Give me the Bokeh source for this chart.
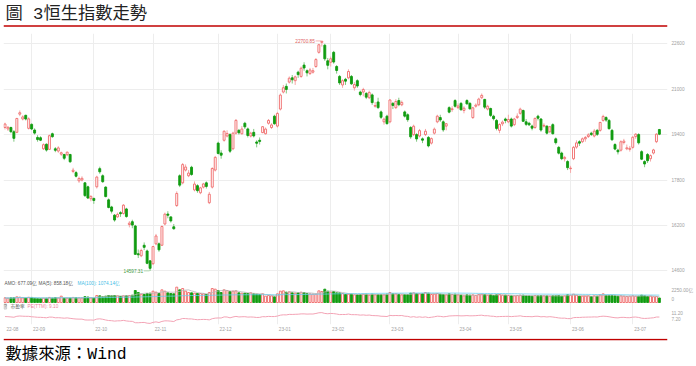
import numpy as np
import pandas as pd
from bokeh.plotting import figure
from bokeh.layouts import column
from bokeh.models import ColumnDataSource, Range1d, FixedTicker, Label
from bokeh.core.properties import value
from bokeh.embed import file_html
from bokeh.resources import INLINE

# ---------------- data ----------------
holidays = ["2022-09-12", "2022-10-04", "2022-12-26", "2022-12-27", "2023-01-02",
            "2023-01-23", "2023-01-24", "2023-01-25", "2023-04-05", "2023-04-07",
            "2023-04-10", "2023-05-01", "2023-05-26", "2023-06-22"]
days = pd.bdate_range("2022-08-19", "2023-07-14")
days = days[~days.isin(pd.to_datetime(holidays))]

opens = [19650, 19600, 19650, 19500, 19480, 20120, 19950, 20080, 19620,
         19760, 19560, 19300, 19290, 18900, 19060, 18880, 19430, 18900, 18820, 18710, 18700, 18690, 18700, 18100, 18060, 17770, 17800, 17700, 17560, 17140,
         17150, 17560, 18200, 17950, 17550, 17100, 16850, 16560, 16500, 16650, 16620, 16780, 16230, 16330, 16180, 15200, 15130, 15500, 15300, 14950,
         14850, 15550, 15550, 15500, 16250, 16600, 16500, 16150, 16900, 17950, 17700, 18150, 17950, 18250, 17450, 17600, 17350, 17550, 17700, 17000, 17550, 18150,
         19100, 18750, 19200, 19350, 19400, 18900, 19450, 19550, 19430, 19800, 19600, 19350, 19480, 19140, 19200, 19470, 19430, 19800, 19650, 20050,
         19700, 20300, 20900, 21100, 21250, 21400, 21300, 21600, 21450, 21850, 21650, 21550, 21600, 21800, 22300, 22650, 22550, 22000,
         21950, 22300, 21800, 21450, 21150, 21350, 21400, 21450, 21050, 21300, 20900, 20900, 20850, 20700, 20800, 20400, 20550, 20200, 19850, 20050,
         19850, 20500, 20350, 20600, 20450, 20200, 20100, 19650, 19400, 19400, 19350, 19250, 19400, 19300, 19100, 19450, 19850, 20000, 19850, 19700, 20350, 20280, 20600,
         20350, 20500, 20250, 20600, 20500, 20000, 20400, 20450, 20700, 20640, 20300, 20320, 20050, 19900, 19550, 19780, 19950,
         19850, 19950, 19750, 20000, 20150, 20250, 19850, 19800, 19700, 19650, 20050, 19950, 19700, 19700, 19500, 19750, 19250, 18950, 18750, 18550, 18450,
         18200, 18550, 18960, 19150, 19150, 19250, 19330, 19450, 19350, 19550, 19550, 19900, 20000, 19900, 19550, 19050, 18850, 18850, 19120, 18900, 18880,
         18950, 19330, 19400, 18800, 18450, 18700, 18550, 18750, 19150, 19580]
highs = [19820, 19700, 19680, 19560, 19990, 20250, 20080, 20100, 20010,
         19800, 19620, 19380, 19340, 19090, 19090, 19400, 19470, 18960, 18990, 18800, 18720, 18800, 18720, 18230, 18120, 17920, 17930, 17720, 17600, 17260,
         17180, 17950, 18270, 18000, 17580, 17150, 16890, 16600, 16650, 16700, 16950, 16820, 16350, 16400, 16220, 15350, 15380, 15600, 15350, 14980,
         15480, 15900, 15600, 16200, 16650, 16700, 16520, 16250, 17400, 18000, 18400, 18350, 18150, 18300, 17750, 17650, 17560, 17700, 17750, 17380, 18250, 18650,
         19150, 18850, 19550, 19550, 19450, 19500, 19950, 19600, 19700, 19850, 19650, 19500, 19600, 19200, 19300, 19700, 19650, 19950, 19800, 20100,
         20200, 20850, 21150, 21200, 21450, 21500, 21480, 21650, 21800, 21950, 21700, 21750, 21750, 22100, 22600, 22700.85, 22600, 22100,
         22150, 22350, 21850, 21500, 21350, 21400, 21700, 21500, 21250, 21350, 20950, 21050, 20900, 20950, 20850, 20550, 20700, 20250, 20000, 20100,
         20650, 20550, 20650, 20700, 20600, 20250, 20150, 19700, 19750, 19450, 19600, 19300, 19600, 19350, 19300, 19650, 20100, 20100, 19900, 19800, 20400, 20400, 20650,
         20500, 20550, 20400, 20650, 20550, 20380, 20500, 20700, 20850, 20660, 20450, 20350, 20100, 19950, 19800, 19900, 20000,
         20100, 20000, 19990, 20150, 20350, 20280, 19950, 19850, 19750, 20000, 20100, 19980, 19800, 19720, 19700, 19800, 19300, 19000, 18800, 18650, 18500,
         18300, 19000, 19200, 19200, 19300, 19350, 19450, 19500, 19600, 19600, 19850, 20100, 20050, 19950, 19600, 19100, 18900, 19200, 19250, 19050, 19000,
         19350, 19450, 19450, 18850, 18500, 18750, 18700, 18900, 19450, 19600]
lows = [19580, 19530, 19450, 19150, 19450, 20050, 19900, 19900, 19580,
        19560, 19400, 19150, 19170, 18860, 18800, 18870, 19290, 18780, 18760, 18650, 18500, 18640, 18400, 18040, 17890, 17700, 17750, 17200, 17130, 17050,
        16960, 17500, 18020, 17700, 17190, 16800, 16620, 16330, 16470, 16500, 16580, 16470, 16130, 16100, 15160, 15050, 15080, 15330, 14830, 14597.31,
        14800, 15500, 15270, 15480, 16200, 16450, 16300, 16050, 16850, 17550, 17650, 18100, 17900, 17950, 17400, 17350, 17300, 17500, 17500, 16950, 17500, 18100,
        18700, 18550, 19150, 19300, 18750, 18850, 19400, 19400, 19400, 19600, 19300, 19300, 19300, 18950, 19050, 19450, 19400, 19750, 19600, 19750,
        19650, 20250, 20850, 20850, 21200, 21200, 21150, 21400, 21400, 21650, 21450, 21500, 21550, 21750, 22250, 22500, 22000, 21700,
        21800, 21900, 21550, 21150, 21050, 21150, 21350, 21150, 20950, 21050, 20750, 20750, 20650, 20650, 20450, 20350, 20300, 19950, 19750, 19750,
        19800, 20300, 20300, 20400, 20400, 20000, 19850, 19250, 19350, 19150, 19300, 19100, 19350, 18950, 19050, 19400, 19800, 19850, 19500, 19550, 20150, 20200, 20350,
        20300, 20250, 20150, 20450, 20280, 19950, 20350, 20400, 20650, 20300, 20250, 20020, 19900, 19550, 19450, 19700, 19800,
        19800, 19650, 19700, 19950, 20100, 19850, 19700, 19700, 19550, 19600, 19900, 19500, 19650, 19400, 19450, 19400, 19050, 18700, 18500, 18450, 18150,
        18050, 18500, 18900, 19000, 19100, 19150, 19280, 19350, 19300, 19350, 19500, 19850, 19850, 19580, 19180, 18850, 18700, 18800, 19050, 18850, 18800,
        18900, 19250, 19050, 18500, 18250, 18400, 18450, 18700, 19100, 19380]
closes = [19773, 19657, 19503, 19268, 19968, 20170, 20023, 19949, 19954,
          19597, 19452, 19225, 19202, 19044, 18854, 19362, 19326, 18847, 18930, 18761, 18566, 18781, 18444, 18147, 17933, 17855, 17860, 17250, 17165, 17223,
          17079, 17903, 18088, 17740, 17216, 16832, 16702, 16389, 16588, 16612, 16914, 16512, 16280, 16211, 15180, 15165, 15317, 15427, 14863, 14687,
          15455, 15827, 15339, 16161, 16595, 16557, 16358, 16081, 17326, 17619, 18343, 18256, 18045, 17993, 17656, 17424, 17524, 17661, 17574, 17298, 18205, 18597,
          18736, 18675, 19518, 19441, 18815, 19451, 19901, 19464, 19596, 19673, 19369, 19450, 19353, 19095, 19160, 19679, 19593, 19899, 19741, 19781,
          20145, 20793, 21052, 20992, 21388, 21331, 21436, 21514, 21739, 21747, 21578, 21678, 21651, 22045, 22567, 22689, 22070, 21842,
          22072, 21958, 21660, 21222, 21299, 21284, 21624, 21190, 21164, 21114, 20812, 20988, 20720, 20887, 20529, 20424, 20351, 20010, 19944, 19786,
          20620, 20429, 20568, 20453, 20534, 20051, 19926, 19320, 19696, 19248, 19540, 19204, 19519, 19001, 19259, 19591, 20050, 19916, 19568, 19785, 20192, 20309, 20400,
          20409, 20274, 20332, 20485, 20309, 20344, 20439, 20651, 20782, 20368, 20397, 20076, 19960, 19618, 19757, 19840, 19895,
          19934, 19699, 19949, 20049, 20297, 19868, 19762, 19744, 19627, 19971, 19978, 19561, 19727, 19451, 19678, 19431, 19116, 18747, 18551, 18596, 18234,
          18217, 18950, 19108, 19099, 19252, 19299, 19390, 19404, 19521, 19408, 19829, 20040, 19913, 19607, 19218, 18890, 18794, 19148, 19172, 18934, 18916,
          19306, 19415, 19110, 18533, 18365, 18479, 18659, 18860, 19414, 19413]
amount = [700, 640, 700, 720, 850, 800, 700, 650, 780,
          760, 620, 600, 580, 650, 640, 760, 660, 740, 680, 950, 620, 640, 660, 760, 720, 700, 680, 880, 820, 680,
          650, 1050, 1000, 850, 950, 1050, 1000, 1050, 1000, 900, 1000, 1000, 1050, 1100, 1800, 1500, 1250, 1200, 1350, 1400,
          1700, 1550, 1350, 1900, 1700, 1450, 1350, 1300, 2300, 1900, 2100, 1700, 1500, 1450, 1400, 1350, 1350, 1300, 1200, 1500, 2100, 2000,
          1800, 1500, 1900, 1800, 1650, 1700, 1750, 1450, 1400, 1400, 1350, 1450, 1300, 1250, 1200, 1300, 950, 1050, 1000, 850,
          1300, 1700, 1750, 1550, 1600, 1450, 1400, 1450, 1550, 1500, 1350, 1300, 1250, 1250, 1750, 1650, 2000, 1700,
          1550, 1650, 1450, 1450, 1350, 1200, 1250, 1250, 1150, 1150, 1200, 1250, 1250, 1100, 1250, 1150, 1200, 1200, 1150, 1250,
          1500, 1300, 1300, 1200, 1150, 1200, 1200, 1400, 1450, 1350, 1300, 1350, 1500, 1400, 1200, 1250, 1350, 1250, 1200, 1150, 1300, 1200, 1250,
          1150, 1100, 1000, 1150, 1100, 1150, 1050, 1200, 1250, 1200, 1100, 1150, 1050, 1150, 1200, 1100, 1100,
          1050, 1000, 1000, 1050, 1100, 1100, 1000, 1000, 950, 1050, 1000, 1050, 1000, 1000, 950, 1000, 1000, 1050, 950, 1000, 1150,
          1100, 1250, 1100, 950, 950, 950, 1000, 900, 1000, 950, 1150, 1300, 1050, 1050, 1050, 1000, 950, 1000, 950, 900, 950,
          1000, 950, 950, 1100, 1000, 905.3, 952.6, 861.0, 894.9, 677.09]
pe_ttm = [9.27, 9.22, 9.14, 9.03, 9.36, 9.46, 9.39, 9.35, 9.35,
          9.19, 9.12, 9.01, 9.00, 8.93, 8.84, 9.08, 9.06, 8.84, 8.87, 8.80, 8.70, 8.80, 8.65, 8.51, 8.41, 8.37, 8.37, 8.09, 8.05, 8.07,
          8.01, 8.39, 8.48, 8.32, 8.07, 7.89, 7.83, 7.68, 7.78, 7.79, 7.93, 7.74, 7.63, 7.60, 7.12, 7.11, 7.18, 7.23, 6.97, 6.89,
          7.25, 7.42, 7.19, 7.58, 7.78, 7.76, 7.67, 7.54, 8.12, 8.26, 8.60, 8.56, 8.46, 8.44, 8.28, 8.17, 8.22, 8.28, 8.24, 8.11, 8.53, 8.72,
          8.78, 8.76, 9.15, 9.11, 8.82, 9.12, 9.33, 9.13, 9.19, 9.22, 9.08, 9.12, 9.07, 8.95, 8.98, 9.23, 9.19, 9.33, 9.26, 9.27,
          9.44, 9.75, 9.87, 9.84, 10.03, 10.00, 10.05, 10.09, 10.19, 10.20, 10.12, 10.16, 10.15, 10.34, 10.58, 10.64, 10.35, 10.24,
          10.35, 10.29, 10.15, 9.95, 9.99, 9.98, 10.14, 9.93, 9.92, 9.90, 9.76, 9.84, 9.71, 9.79, 9.62, 9.58, 9.54, 9.38, 9.35, 9.28,
          9.67, 9.58, 9.64, 9.59, 9.63, 9.40, 9.34, 9.06, 9.23, 9.02, 9.16, 9.00, 9.15, 8.91, 9.03, 9.18, 9.40, 9.34, 9.17, 9.28, 9.47, 9.52, 9.56,
          9.57, 9.50, 9.53, 9.60, 9.52, 9.54, 9.58, 9.68, 9.74, 9.55, 9.56, 9.41, 9.36, 9.20, 9.26, 9.30, 9.33,
          9.35, 9.24, 9.35, 9.40, 9.52, 9.31, 9.26, 9.26, 9.20, 9.36, 9.37, 9.17, 9.25, 9.12, 9.23, 9.11, 8.96, 8.79, 8.70, 8.72, 8.55,
          8.54, 8.88, 8.96, 8.95, 9.03, 9.05, 9.09, 9.10, 9.15, 9.10, 9.30, 9.40, 9.34, 9.19, 9.01, 8.86, 8.81, 8.98, 8.99, 8.88, 8.87,
          9.05, 9.10, 8.96, 8.69, 8.61, 8.66, 8.75, 8.84, 9.10, 9.10]
price_ticks = [14600, 16200, 17800, 19400, 21000, 22600]
vol_ticks = [(2250, "2250.00亿"), (0, "0")]
pe_ticks = [(11.2, "11.20"), (7.2, "7.20")]
ma100_text = "MA(100): 1074.14亿"
title_text = "圖 3恒生指數走勢"
source_text = "數據來源：Wind"

n = len(days)
assert n == len(opens) == len(highs) == len(lows) == len(closes) == len(amount) == len(pe_ttm)

o = np.array(opens, float); h = np.array(highs, float); l = np.array(lows, float); c = np.array(closes, float)
x = np.arange(n)
up = c >= o
amt = pd.Series(amount, dtype=float)
ma5 = amt.rolling(5, min_periods=1).mean()
ma100 = amt.rolling(100, min_periods=1).mean()

months = days.strftime("%y-%m")
month_idx = [0] + [i for i in range(1, n) if months[i] != months[i - 1]]
month_lab = [months[i] for i in month_idx]

# ---------------- layout (page pixels) ----------------
W = 696
TOP_H, MAIN_H, BOT_H = 29, 309, 28
FRAME_L, FRAME_R = 3, 669          # page x of plotting frame
FRAME_T, FRAME_B = 33, 324         # page y of plotting frame
FW, FH = FRAME_R - FRAME_L, FRAME_B - FRAME_T

X0, STEP = 4.5, 2.97               # first candle centre / candle pitch
xstart = -(X0 - FRAME_L) / STEP
xr = Range1d(xstart, xstart + FW / STEP)

# vertical scales of the three panels: (value, page y, px per unit)
MAIN_REF = (22600, 43.3, 227 / 8000)
VOL_REF = (0, 302.0, 1 / 150)
PE_REF = (7.2, 322.0, 2.875)

def rng(ref):
    v, py, ppu = ref
    end = v + (py - FRAME_T) / ppu
    return Range1d(end - FH / ppu, end)

def page_y(ref, val):
    v, py, ppu = ref
    return py - (val - v) * ppu

def main_val(py):
    v, py0, ppu = MAIN_REF
    return v - (py - py0) / ppu

RED, RED_W = "#ef6a6a", "#f5a8a8"
GRN, GRN_W = "#119c11", "#80c880"
GREY = "#a0a0a0"
SMALL = "Liberation Sans, Noto Sans CJK SC"
FS = "4.7px"

p = figure(width=W, height=MAIN_H, x_range=xr, y_range=rng(MAIN_REF),
           y_axis_location="right", output_backend="svg", toolbar_location=None,
           min_border_left=FRAME_L, min_border_right=W - FRAME_R,
           min_border_top=FRAME_T - TOP_H, min_border_bottom=TOP_H + MAIN_H - FRAME_B)
p.extra_y_ranges = {"vol": rng(VOL_REF), "pe": rng(PE_REF)}
p.outline_line_color = None
p.background_fill_color = "white"
p.border_fill_color = "white"
p.styles = {"outline": "1px solid #e2e2e2", "outline-offset": "-2px"}

# right axis: price ticks plus the scale labels of the two lower panels
sub_pos, sub_lab = [], []
for v, t in vol_ticks:
    sub_pos.append(round(main_val(page_y(VOL_REF, v) + (3 if v > 0 else -2.8)), 1)); sub_lab.append(t)
for v, t in pe_ticks:
    sub_pos.append(round(main_val(page_y(PE_REF, v) + (2.5 if v > 8 else -2.5)), 1)); sub_lab.append(t)
ya = p.yaxis[0]
ya.ticker = FixedTicker(ticks=price_ticks + sub_pos)
ya.major_label_overrides = {pos: t for pos, t in zip(sub_pos, sub_lab)}
xa = p.xaxis[0]
xt = [i + 2.5 for i in month_idx]
xa.ticker = FixedTicker(ticks=xt)
xa.major_label_overrides = {t: lab for t, lab in zip(xt, month_lab)}
for ax, so in ((ya, 4), (xa, 2)):
    ax.axis_line_color = None
    ax.major_tick_line_color = None
    ax.minor_tick_line_color = None
    ax.major_tick_out = 0
    ax.major_tick_in = 0
    ax.minor_tick_out = 0
    ax.major_label_standoff = so
    ax.major_label_text_font_size = FS
    ax.major_label_text_color = GREY
    ax.major_label_text_font = SMALL

p.xgrid.ticker = FixedTicker(ticks=month_idx[1:])
p.ygrid.ticker = FixedTicker(ticks=price_ticks)
p.xgrid.grid_line_color = "#ededed"
p.ygrid.grid_line_color = "#ededed"

src = ColumnDataSource(dict(
    x=x, o=o, h=h, l=l, c=c,
    top=np.maximum(o, c), bot=np.minimum(o, c),
    fill=np.where(up, "white", GRN), line=np.where(up, RED, GRN), wick=np.where(up, RED_W, GRN_W),
    amt=amt.values, ma5=ma5.values, ma100=ma100.values, pe=np.array(pe_ttm)))

# candles
p.segment(x0="x", y0="l", x1="x", y1="h", line_color="wick", line_width=1, source=src)
p.vbar(x="x", width=0.66, top="top", bottom="bot", fill_color="fill", line_color="line", line_width=0.9, source=src)

# turnover panel
p.vbar(x="x", width=0.66, top="amt", bottom=0, fill_color="fill", line_color="line", line_width=0.9,
       source=src, y_range_name="vol")
p.line("x", "ma5", source=src, y_range_name="vol", line_color="#b8b8b8", line_width=0.8)
p.line("x", "ma100", source=src, y_range_name="vol", line_color="#6ccfee", line_width=0.8)

# PE panel
p.line("x", "pe", source=src, y_range_name="pe", line_color="#f3a3b5", line_width=1)

# high / low marks
ih, il = int(np.argmax(h)), int(np.argmin(l))
p.segment(x0=[ih - 2.1, il - 2.1], y0=[h[ih], l[il]], x1=[ih - 0.2, il - 0.2], y1=[h[ih], l[il]],
          line_color=["#f2a0a0", "#9fcf9f"], line_width=0.8)
p.add_layout(Label(x=ih, y=h[ih], x_offset=-7, text=f"{h[ih]:.2f}", text_align="right", text_baseline="middle",
                   text_font_size=FS, text_color="#e05c5c", text_font=SMALL))
p.add_layout(Label(x=il, y=l[il], x_offset=-7, text=f"{l[il]:.2f}", text_align="right", text_baseline="middle",
                   text_font_size=FS, text_color="#3f9a3f", text_font=SMALL))

# panel legends (inside the frame)
def lab(px, py, text, color, **kw):
    p.add_layout(Label(x=px - FRAME_L, y=FRAME_B - py, x_units="screen", y_units="screen", text=text,
                       text_baseline="middle", text_font_size=FS, text_color=color, text_font=SMALL, **kw))

lab(4, 283, f"AMO: {amount[-1]:.2f}亿", "#555555")
lab(38, 283, f"MA(5): {ma5.iloc[-1]:.2f}亿", "#555555")
lab(77, 283, ma100_text, "#45bde6")
lab(3.5, 306, "?", "#777777", background_fill_color="#e4e4e4", border_line_color="#cccccc")
lab(10, 306, "市盈率", "#555555")
lab(27, 306, f"PE(TTM): {pe_ttm[-1]:.2f}", "#ee7f9a")

# ---------------- title / source strips ----------------
def strip(height):
    f = figure(width=W, height=height, x_range=Range1d(0, W), y_range=Range1d(height, 0),
               x_axis_location=None, y_axis_location=None, toolbar_location=None,
               output_backend="svg", min_border=0)
    f.grid.visible = False
    f.outline_line_color = None
    f.background_fill_color = "white"
    f.border_fill_color = "white"
    return f

ft = strip(TOP_H)
ft.text(x=[2], y=[14], text=[title_text], text_font=value("Liberation Mono, Noto Sans CJK TC"),
        text_font_size="17.3px", text_baseline="middle", text_color="#222222")
ft.quad(left=[0], right=[W], top=[24.7], bottom=[26.3], fill_color="#c00000", line_color=None)

fb = strip(BOT_H)
fb.quad(left=[0], right=[W], top=[0.3], bottom=[1.8], fill_color="#c00000", line_color=None)
fb.text(x=[2], y=[15.5], text=[source_text], text_font=value("Liberation Mono, Noto Sans CJK TC"),
        text_font_size="16.4px", text_baseline="middle", text_color="#000000")

layout = column(ft, p, fb, spacing=0)
open("out.html", "w").write(file_html(layout, INLINE))
